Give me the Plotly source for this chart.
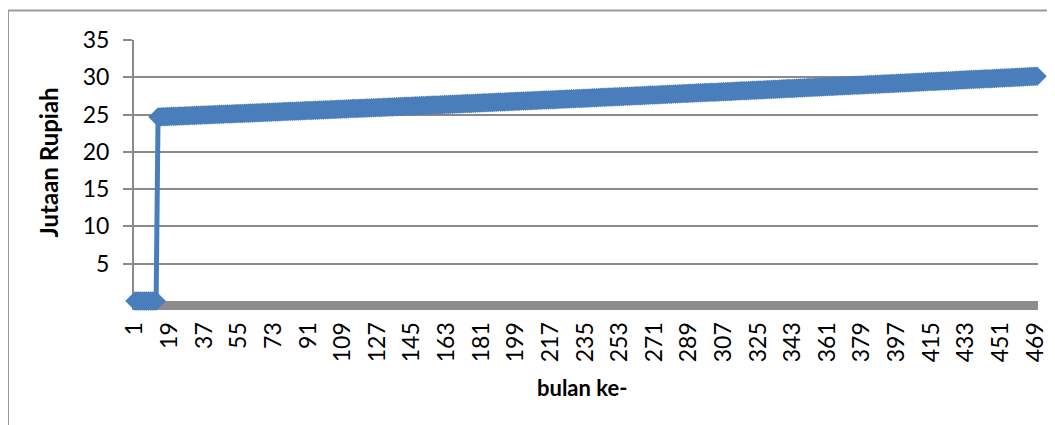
import plotly.graph_objects as go

# ---------------- data ----------------
months = list(range(1, 471))  # bulan ke- 1 .. 470

values = [
    0, 0, 0, 0, 0, 0, 0, 0, 0, 0, 0, 0,
    24.68, 24.69, 24.70, 24.71, 24.72, 24.74, 24.75, 24.76, 24.77, 24.78, 24.79, 24.80,
    24.81, 24.82, 24.83, 24.84, 24.85, 24.87, 24.88, 24.89, 24.90, 24.91, 24.92, 24.93,
    24.94, 24.95, 24.96, 24.97, 24.98, 25.00, 25.01, 25.02, 25.03, 25.04, 25.05, 25.06,
    25.07, 25.08, 25.09, 25.10, 25.11, 25.13, 25.14, 25.15, 25.16, 25.17, 25.18, 25.19,
    25.20, 25.21, 25.22, 25.23, 25.24, 25.26, 25.27, 25.28, 25.29, 25.30, 25.31, 25.32,
    25.34, 25.35, 25.36, 25.37, 25.38, 25.40, 25.41, 25.42, 25.43, 25.44, 25.45, 25.46,
    25.47, 25.48, 25.49, 25.50, 25.51, 25.53, 25.54, 25.55, 25.56, 25.57, 25.58, 25.59,
    25.60, 25.61, 25.62, 25.63, 25.64, 25.66, 25.67, 25.68, 25.69, 25.70, 25.71, 25.72,
    25.74, 25.75, 25.76, 25.77, 25.78, 25.80, 25.81, 25.82, 25.83, 25.84, 25.85, 25.86,
    25.87, 25.88, 25.89, 25.90, 25.91, 25.93, 25.94, 25.95, 25.96, 25.97, 25.98, 25.99,
    26.01, 26.02, 26.03, 26.04, 26.05, 26.07, 26.08, 26.09, 26.10, 26.11, 26.12, 26.13,
    26.15, 26.16, 26.17, 26.18, 26.19, 26.21, 26.22, 26.23, 26.24, 26.25, 26.26, 26.27,
    26.28, 26.29, 26.30, 26.32, 26.33, 26.34, 26.35, 26.36, 26.38, 26.39, 26.40, 26.41,
    26.42, 26.43, 26.44, 26.46, 26.47, 26.48, 26.49, 26.50, 26.52, 26.53, 26.54, 26.55,
    26.56, 26.57, 26.58, 26.60, 26.61, 26.62, 26.63, 26.64, 26.66, 26.67, 26.68, 26.69,
    26.70, 26.71, 26.72, 26.74, 26.75, 26.76, 26.77, 26.78, 26.80, 26.81, 26.82, 26.83,
    26.84, 26.85, 26.86, 26.88, 26.89, 26.90, 26.91, 26.92, 26.94, 26.95, 26.96, 26.97,
    26.98, 26.99, 27.00, 27.02, 27.03, 27.04, 27.05, 27.06, 27.08, 27.09, 27.10, 27.11,
    27.12, 27.13, 27.14, 27.16, 27.17, 27.18, 27.19, 27.20, 27.22, 27.23, 27.24, 27.25,
    27.27, 27.28, 27.29, 27.31, 27.32, 27.33, 27.34, 27.35, 27.37, 27.38, 27.39, 27.40,
    27.41, 27.42, 27.43, 27.45, 27.46, 27.47, 27.48, 27.49, 27.51, 27.52, 27.53, 27.54,
    27.56, 27.57, 27.58, 27.60, 27.61, 27.62, 27.63, 27.64, 27.66, 27.67, 27.68, 27.69,
    27.70, 27.71, 27.72, 27.74, 27.75, 27.76, 27.77, 27.78, 27.80, 27.81, 27.82, 27.83,
    27.85, 27.86, 27.87, 27.89, 27.90, 27.91, 27.92, 27.93, 27.95, 27.96, 27.97, 27.98,
    27.99, 28.00, 28.01, 28.03, 28.04, 28.05, 28.06, 28.07, 28.09, 28.10, 28.11, 28.12,
    28.14, 28.15, 28.16, 28.18, 28.19, 28.20, 28.21, 28.22, 28.24, 28.25, 28.26, 28.27,
    28.29, 28.30, 28.31, 28.33, 28.34, 28.35, 28.36, 28.37, 28.39, 28.40, 28.41, 28.42,
    28.44, 28.45, 28.46, 28.48, 28.49, 28.50, 28.51, 28.52, 28.54, 28.55, 28.56, 28.57,
    28.59, 28.60, 28.62, 28.63, 28.64, 28.66, 28.67, 28.68, 28.69, 28.71, 28.72, 28.73,
    28.74, 28.75, 28.77, 28.78, 28.79, 28.81, 28.82, 28.83, 28.84, 28.86, 28.87, 28.88,
    28.89, 28.90, 28.92, 28.93, 28.94, 28.96, 28.97, 28.98, 28.99, 29.01, 29.02, 29.03,
    29.04, 29.05, 29.07, 29.08, 29.09, 29.11, 29.12, 29.13, 29.14, 29.16, 29.17, 29.18,
    29.19, 29.20, 29.22, 29.23, 29.24, 29.26, 29.27, 29.28, 29.29, 29.31, 29.32, 29.33,
    29.35, 29.36, 29.38, 29.39, 29.40, 29.42, 29.43, 29.44, 29.45, 29.47, 29.48, 29.49,
    29.50, 29.51, 29.53, 29.54, 29.55, 29.57, 29.58, 29.59, 29.60, 29.62, 29.63, 29.64,
    29.66, 29.67, 29.69, 29.70, 29.71, 29.73, 29.74, 29.75, 29.76, 29.78, 29.79, 29.80,
    29.81, 29.82, 29.84, 29.85, 29.86, 29.88, 29.89, 29.90, 29.91, 29.93, 29.94, 29.95,
    29.97, 29.98, 30.00, 30.01, 30.02, 30.04, 30.05, 30.06, 30.07, 30.09, 30.10, 30.11,
    30.13, 30.14,
]

x_tick_labels = [1, 19, 37, 55, 73, 91, 109, 127, 145, 163, 181, 199, 217, 235,
                 253, 271, 289, 307, 325, 343, 361, 379, 397, 415, 433, 451, 469]
y_tick_labels = [5, 10, 15, 20, 25, 30, 35]

x_title = "bulan ke-"
y_title = "Jutaan Rupiah"

# ---------------- layout constants ----------------
# the page body has an 8px margin, so the figure is offset by OFF on screen
OFF = 8
PAGE_W, PAGE_H = 1055, 425
W, H = PAGE_W - OFF, PAGE_H - OFF
# plot area in page pixels
PL, PR, PT, PB = 134, 1038, 39.5, 300.6
L = PL - OFF
R = W - (PR - OFF)
T = PT - OFF
B = H - (PB - OFF)
pw, ph = W - L - R, H - T - B

BLUE = "#4A7EBB"
GRID = "#8A8A8A"
FONT = "Lato"


def px_x(p):  # page pixel x -> paper
    return (p - OFF - L) / pw


def px_y(p):  # page pixel y -> paper
    return (H - B - (p - OFF)) / ph


fig = go.Figure()
fig.add_trace(go.Scatter(
    x=months, y=values, mode="lines+markers",
    line=dict(color=BLUE, width=5),
    marker=dict(symbol="diamond", size=15, color=BLUE, line=dict(width=0)),
    cliponaxis=False, showlegend=False, hoverinfo="x+y",
))

fig.update_layout(
    template="none",
    width=W, height=H,
    margin=dict(l=L, r=R, t=T, b=B, pad=0, autoexpand=False),
    paper_bgcolor="white", plot_bgcolor="white",
    font=dict(family=FONT, size=23, color="black"),
    xaxis=dict(
        automargin=False,
        range=[0.5, 470.5], tickmode="array", tickvals=x_tick_labels,
        ticktext=[str(v) for v in x_tick_labels], tickangle=-90,
        showgrid=False, zeroline=False, showline=True, linewidth=9,
        linecolor="#8C8C8C", ticks="", layer="below traces",
        tickfont=dict(family=FONT, size=23, color="black"),
        ticklabelstandoff=3,
    ),
    yaxis=dict(
        automargin=False,
        range=[0, 35], tickmode="array", tickvals=y_tick_labels,
        showgrid=True, gridcolor=GRID, gridwidth=1.5, zeroline=False,
        showline=True, linewidth=2, linecolor=GRID,
        ticks="outside", ticklen=9, tickwidth=1.5, tickcolor=GRID,
        tickfont=dict(family=FONT, size=23, color="black"),
        ticklabelstandoff=9, layer="below traces",
    ),
    shapes=[
        dict(type="line", xref="paper", yref="paper",
             x0=px_x(8), x1=px_x(1060), y0=px_y(10), y1=px_y(10),
             line=dict(color="#9A9A9A", width=2)),
        dict(type="line", xref="paper", yref="paper",
             x0=px_x(8), x1=px_x(8), y0=px_y(10), y1=px_y(430),
             line=dict(color="#9A9A9A", width=2)),
    ],
    annotations=[
        dict(text="<b>" + x_title + "</b>", xref="paper", yref="paper",
             x=px_x(582), y=px_y(387), showarrow=False,
             xanchor="center", yanchor="middle",
             font=dict(family=FONT, size=22, color="black")),
        dict(text="<b>" + y_title + "</b>", xref="paper", yref="paper",
             x=px_x(48), y=px_y(162), showarrow=False, textangle=-90,
             xanchor="center", yanchor="middle",
             font=dict(family=FONT, size=24, color="black")),
    ],
)

fig.write_html("out.html")
